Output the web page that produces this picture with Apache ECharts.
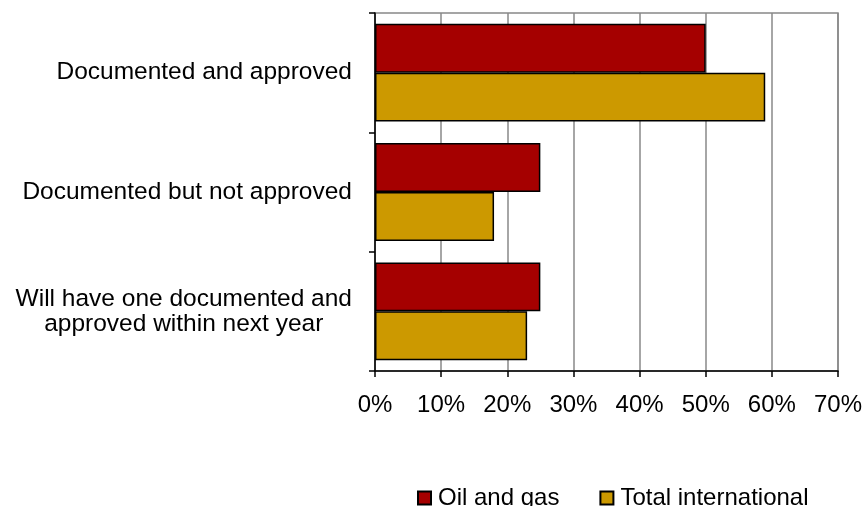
<!DOCTYPE html>
<html>
<head>
<meta charset="utf-8">
<script src="https://cdn.jsdelivr.net/npm/echarts@6/dist/echarts.min.js"></script>
<style>html,body{margin:0;padding:0;background:#fff;}#c{width:865px;height:506px;}</style>
</head>
<body>
<div id="c"></div>
<script>
const categories = ["Documented and approved", "Documented but not approved", "Will have one documented and\napproved within next year"];
const oilAndGas = [50, 25, 25];
const totalInternational = [59, 18, 23];
const seriesNames = ["Oil and gas", "Total international"];
const xTicks = [0, 10, 20, 30, 40, 50, 60, 70];

const chart = echarts.init(document.getElementById('c'));
const font = '"Liberation Sans", Arial, sans-serif';
const fs = 24;
const fsY = 24.5;
chart.setOption({
  animation: false,
  backgroundColor: '#fff',
  grid: { left: 375, right: 27, top: 13, bottom: 135, containLabel: false, show: true, borderColor: '#888', borderWidth: 1.5 },
  xAxis: {
    type: 'value', min: xTicks[0], max: xTicks[xTicks.length - 1], interval: 10,
    axisLine: { show: true, lineStyle: { color: '#000', width: 1.5 } },
    axisTick: { show: true, length: 6, lineStyle: { color: '#000', width: 1.5 } },
    splitLine: { show: true, lineStyle: { color: '#888', width: 1.5 } },
    axisLabel: { formatter: '{value}%', color: '#000', fontSize: fs, fontFamily: font, margin: 22 }
  },
  yAxis: {
    type: 'category', data: categories, inverse: true,
    axisLine: { show: true, lineStyle: { color: '#000', width: 1.5 } },
    axisTick: { show: true, length: 6, lineStyle: { color: '#000', width: 1.5 } },
    axisLabel: {
      color: '#000', fontSize: fsY, fontFamily: font, margin: 23, lineHeight: 25,
      formatter: v => v.split('\n').map(s => '{c|' + s + '}').join('\n'),
      rich: { c: { align: 'center', fontSize: fsY, fontFamily: font, color: '#000', lineHeight: 25 } }
    }
  },
  legend: {
    left: 412, top: 481, itemWidth: 13, itemHeight: 13, itemGap: 40, icon: 'rect',
    textStyle: { color: '#000', fontSize: fs, fontFamily: font, padding: [0, 0, 0, 2] },
    data: seriesNames
  },
  series: [
    { name: seriesNames[0], type: 'bar', data: oilAndGas, barGap: '0%', barCategoryGap: '18%',
      itemStyle: { color: '#A50000', borderColor: '#000', borderWidth: 1.5 } },
    { name: seriesNames[1], type: 'bar', data: totalInternational, barGap: '0%', barCategoryGap: '18%',
      itemStyle: { color: '#CC9900', borderColor: '#000', borderWidth: 1.5 } }
  ]
});
</script>
</body>
</html>
